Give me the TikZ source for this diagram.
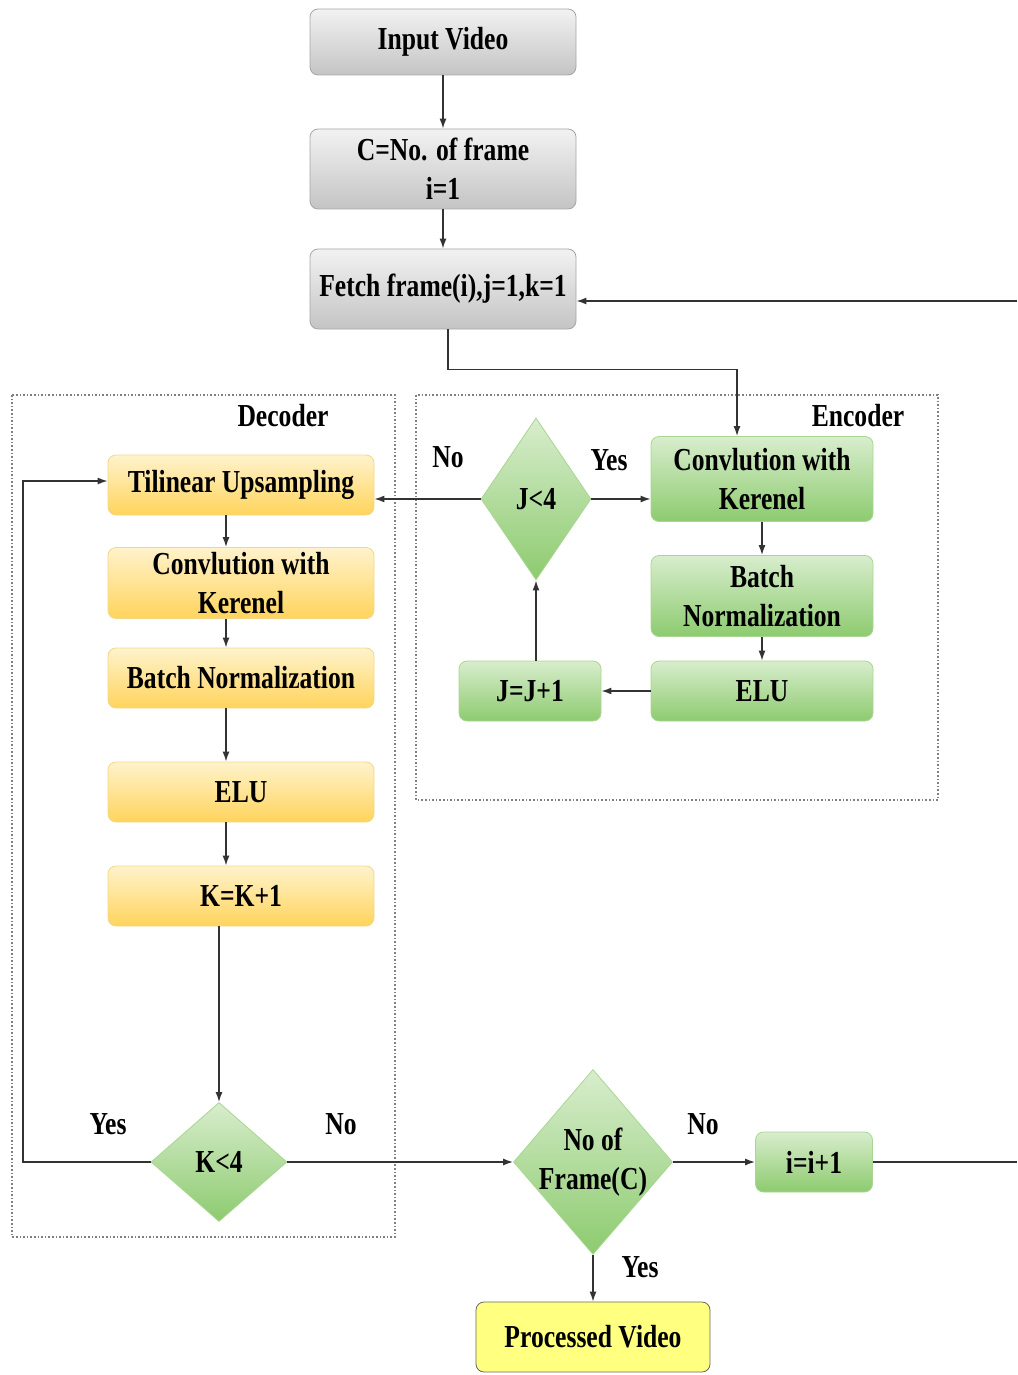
\documentclass[tikz,border=0pt]{standalone}
\usepackage{fontspec}
\setmainfont{Liberation Serif}[FakeStretch=0.8]
\usetikzlibrary{arrows, arrows.meta}
\usetikzlibrary{shapes.geometric}

\definecolor{grayT}{HTML}{F2F2F2}
\definecolor{grayB}{HTML}{C4C4C4}
\definecolor{greenT}{HTML}{D8EDCD}
\definecolor{greenB}{HTML}{8DCB6F}
\definecolor{greenL}{HTML}{A9D692}
\definecolor{yelT}{HTML}{FFF3CC}
\definecolor{yelB}{HTML}{FFD45C}
\definecolor{yelL}{HTML}{F2D78A}
\definecolor{procF}{HTML}{FFFF80}

\tikzset{
  txt/.style={font=\fontsize{16}{19.5}\selectfont\bfseries, align=center},
  graybox/.style={txt, draw=gray!70, rounded corners=4pt, top color=grayT, bottom color=grayB, minimum width=133pt, inner sep=1pt},
  greenbox/.style={txt, draw=greenL, rounded corners=4pt, top color=greenT, bottom color=greenB, inner sep=1pt},
  yelbox/.style={txt, draw=yelL, rounded corners=4pt, top color=yelT, bottom color=yelB, minimum width=133pt, minimum height=30pt, inner sep=1pt},
  decision/.style={txt, diamond, draw=greenL, top color=greenT, bottom color=greenB, inner sep=0pt, aspect=0.7},
  arr/.style={-{Latex[length=5pt,width=3.5pt]}, line width=0.7pt, black!80},
  ln/.style={line width=0.7pt, black!80},
  group/.style={draw=gray, densely dotted, line width=0.8pt}
}

\begin{document}
\begin{tikzpicture}[x=0.5pt, y=-0.5pt]
\useasboundingbox (0,0) rectangle (1017,1375);

\draw[group] (12,395) rectangle (395,1237);
\draw[group] (416,395) rectangle (938,800);
\node[txt] (declbl) at (283,416) {Decoder};
\node[txt] (enclbl) at (858,416) {Encoder};

\node[graybox, minimum height=33pt] (input) at (443,42) {Input Video};
\node[graybox, minimum height=40pt] (cnum) at (443,169) {C=No. of frame\\ i=1};
\node[graybox, minimum height=40pt] (fetch) at (443,289) {Fetch frame(i),j=1,k=1};

\node[greenbox, minimum width=111pt, minimum height=42.5pt] (econv) at (762,479) {Convlution with\\ Kerenel};
\node[greenbox, minimum width=111pt, minimum height=40.5pt] (ebn) at (762,596) {Batch\\ Normalization};
\node[greenbox, minimum width=111pt, minimum height=30pt] (eelu) at (762,691) {ELU};
\node[greenbox, minimum width=71pt, minimum height=30pt] (jinc) at (530,691) {J=J+1};
\node[decision, minimum width=55pt, minimum height=81pt] (jless) at (536,499) {J<4};

\node[yelbox] (dup) at (241,485) {Tilinear Upsampling};
\node[yelbox, minimum height=35.5pt] (dconv) at (241,583) {Convlution with\\ Kerenel};
\node[yelbox] (dbn) at (241,678) {Batch Normalization};
\node[yelbox] (delu) at (241,792) {ELU};
\node[yelbox] (kinc) at (241,896) {K=K+1};
\node[decision, minimum width=68pt, minimum height=59.5pt] (kless) at (219,1162) {K<4};

\node[decision, inner sep=-9pt, minimum width=79.5pt, minimum height=92.5pt] (nframe) at (593,1162) {No of\\ Frame(C)};
\node[greenbox, minimum width=58.5pt, minimum height=30pt] (iinc) at (814,1162) {i=i+1};
\node[txt, draw=gray!80!black, fill=procF, rounded corners=4pt, minimum width=117pt, minimum height=35pt] (proc) at (593,1337) {Processed Video};

\node[txt] (jno) at (448,457) {No};
\node[txt] (jyes) at (609,460) {Yes};
\node[txt] (kyes) at (108,1124) {Yes};
\node[txt] (kno) at (341,1124) {No};
\node[txt] (fno) at (703,1124) {No};
\node[txt] (fyes) at (640,1267) {Yes};

\coordinate (lp) at (23,1162);
\coordinate (re1) at (1017,1162);
\coordinate (re2) at (1017,301);

\draw[arr] (input) -- (cnum);
\draw[arr] (cnum) -- (fetch);
\draw[arr] ([xshift=2.5pt]fetch.south) -- ++(0,40) -| ([xshift=-12.5pt]econv.north);
\draw[arr] (re2) -- (re2 -| fetch.east);

\draw[arr] (jless.east) -- (econv.west |- jless.east);
\draw[arr] (econv) -- (ebn);
\draw[arr] (ebn) -- (eelu);
\draw[arr] (eelu) -- (jinc);
\draw[arr] (jinc.north -| jless.south) -- (jless.south);
\draw[arr] (jless.west) -- (dup.east |- jless.west);

\draw[arr] ([xshift=-7.5pt]dup.south) -- ([xshift=-7.5pt]dconv.north);
\draw[arr] ([xshift=-7.5pt]dconv.south) -- ([xshift=-7.5pt]dbn.north);
\draw[arr] ([xshift=-7.5pt]dbn.south) -- ([xshift=-7.5pt]delu.north);
\draw[arr] ([xshift=-7.5pt]delu.south) -- ([xshift=-7.5pt]kinc.north);
\draw[arr] (kinc.south -| kless.north) -- (kless.north);
\draw[arr] (kless.west) -- (lp) |- ([yshift=2pt]dup.west);
\draw[arr] (kless.east) -- (nframe.west);
\draw[arr] (nframe.east) -- (iinc.west);
\draw[ln] (iinc.east) -- (re1);
\draw[arr] (nframe.south) -- (proc.north);
\end{tikzpicture}
\end{document}
